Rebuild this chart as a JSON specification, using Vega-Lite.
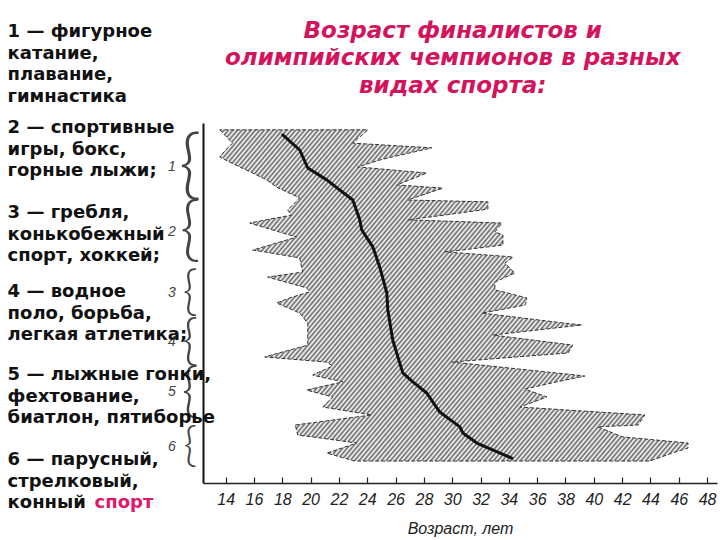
{
  "$schema": "https://vega.github.io/schema/vega-lite/v6.json",
  "width": 514,
  "height": 360,
  "autosize": {"type": "none"},
  "padding": {"left": 203, "top": 123, "right": 3, "bottom": 57},
  "background": "white",
  "config": {"view": {"stroke": null}, "font": "DejaVu Sans"},
  "datasets": {
    "band": [
      {"pos": 1.9, "lo": 13.58, "hi": 24.04},
      {"pos": 5.6, "lo": 14.49, "hi": 22.98},
      {"pos": 6.9, "lo": 14.14, "hi": 28.56},
      {"pos": 9.4, "lo": 13.58, "hi": 25.80},
      {"pos": 10.3, "lo": 14.00, "hi": 24.88},
      {"pos": 12.2, "lo": 14.99, "hi": 23.33},
      {"pos": 13.9, "lo": 15.91, "hi": 28.20},
      {"pos": 15.8, "lo": 16.90, "hi": 27.00},
      {"pos": 17.2, "lo": 17.39, "hi": 26.08},
      {"pos": 17.8, "lo": 17.60, "hi": 28.28},
      {"pos": 18.1, "lo": 17.75, "hi": 29.34},
      {"pos": 20.8, "lo": 19.23, "hi": 27.29},
      {"pos": 21.4, "lo": 19.09, "hi": 26.86},
      {"pos": 21.9, "lo": 18.95, "hi": 32.52},
      {"pos": 23.9, "lo": 18.45, "hi": 32.52},
      {"pos": 24.2, "lo": 18.38, "hi": 32.02},
      {"pos": 25.6, "lo": 18.66, "hi": 29.41},
      {"pos": 26.9, "lo": 16.83, "hi": 26.86},
      {"pos": 27.8, "lo": 15.70, "hi": 33.51},
      {"pos": 30.3, "lo": 17.82, "hi": 33.01},
      {"pos": 31.1, "lo": 18.52, "hi": 33.58},
      {"pos": 31.7, "lo": 19.02, "hi": 33.58},
      {"pos": 33.9, "lo": 17.11, "hi": 33.58},
      {"pos": 35.3, "lo": 15.91, "hi": 30.68},
      {"pos": 35.8, "lo": 16.76, "hi": 29.48},
      {"pos": 37.2, "lo": 18.81, "hi": 34.28},
      {"pos": 37.5, "lo": 19.23, "hi": 34.21},
      {"pos": 38.9, "lo": 19.30, "hi": 33.72},
      {"pos": 41.4, "lo": 19.44, "hi": 34.35},
      {"pos": 41.7, "lo": 18.95, "hi": 34.42},
      {"pos": 42.8, "lo": 16.97, "hi": 33.79},
      {"pos": 44.2, "lo": 18.24, "hi": 33.01},
      {"pos": 45.8, "lo": 19.72, "hi": 33.01},
      {"pos": 46.4, "lo": 19.87, "hi": 33.01},
      {"pos": 46.9, "lo": 19.94, "hi": 33.58},
      {"pos": 48.6, "lo": 18.52, "hi": 35.27},
      {"pos": 50.0, "lo": 17.60, "hi": 35.20},
      {"pos": 50.6, "lo": 17.96, "hi": 35.13},
      {"pos": 52.8, "lo": 19.23, "hi": 32.09},
      {"pos": 55.6, "lo": 19.80, "hi": 37.96},
      {"pos": 56.1, "lo": 19.80, "hi": 39.16},
      {"pos": 58.9, "lo": 19.80, "hi": 32.87},
      {"pos": 61.7, "lo": 19.80, "hi": 38.52},
      {"pos": 63.9, "lo": 17.75, "hi": 38.17},
      {"pos": 65.0, "lo": 16.76, "hi": 34.49},
      {"pos": 66.4, "lo": 21.14, "hi": 29.97},
      {"pos": 67.5, "lo": 21.56, "hi": 32.66},
      {"pos": 70.0, "lo": 20.15, "hi": 38.73},
      {"pos": 70.3, "lo": 20.43, "hi": 39.37},
      {"pos": 71.9, "lo": 22.27, "hi": 37.39},
      {"pos": 73.9, "lo": 20.01, "hi": 35.13},
      {"pos": 74.2, "lo": 19.72, "hi": 35.34},
      {"pos": 76.1, "lo": 21.56, "hi": 36.69},
      {"pos": 78.9, "lo": 20.86, "hi": 34.78},
      {"pos": 81.1, "lo": 24.32, "hi": 43.61},
      {"pos": 83.9, "lo": 18.88, "hi": 43.12},
      {"pos": 84.4, "lo": 18.95, "hi": 40.29},
      {"pos": 86.7, "lo": 19.09, "hi": 41.70},
      {"pos": 87.2, "lo": 20.15, "hi": 42.06},
      {"pos": 88.9, "lo": 23.26, "hi": 46.65},
      {"pos": 90.3, "lo": 22.20, "hi": 46.65},
      {"pos": 91.7, "lo": 21.14, "hi": 45.52},
      {"pos": 93.9, "lo": 23.12, "hi": 43.96}
    ],
    "median": [
      {"pos": 3.3, "age": 18.03},
      {"pos": 7.5, "age": 19.23},
      {"pos": 12.5, "age": 19.80},
      {"pos": 15.8, "age": 21.14},
      {"pos": 18.6, "age": 22.06},
      {"pos": 21.4, "age": 22.98},
      {"pos": 26.9, "age": 23.47},
      {"pos": 29.7, "age": 23.61},
      {"pos": 34.4, "age": 24.39},
      {"pos": 40.0, "age": 24.88},
      {"pos": 47.2, "age": 25.38},
      {"pos": 51.9, "age": 25.45},
      {"pos": 60.3, "age": 25.80},
      {"pos": 69.4, "age": 26.51},
      {"pos": 71.9, "age": 27.22},
      {"pos": 75.0, "age": 28.20},
      {"pos": 80.3, "age": 29.12},
      {"pos": 84.4, "age": 30.54},
      {"pos": 86.1, "age": 30.75},
      {"pos": 88.9, "age": 31.74},
      {"pos": 93.1, "age": 34.21}
    ],
    "groups": [
      {"group": "1", "tip": 12.2, "span": 19.4},
      {"group": "2", "tip": 30.3, "span": 17.8},
      {"group": "3", "tip": 47.2, "span": 13.1},
      {"group": "4", "tip": 60.8, "span": 13.9},
      {"group": "5", "tip": 74.7, "span": 14.7},
      {"group": "6", "tip": 90.0, "span": 11.9}
    ],
    "notes": [
      {"group": "1", "pos": -25.3, "label": "1 — фигурное\nкатание,\nплавание,\nгимнастика"},
      {"group": "2", "pos": 1.4, "label": "2 — спортивные\nигры, бокс,\nгорные лыжи;"},
      {"group": "3", "pos": 25.0, "label": "3 — гребля,\nконькобежный\nспорт, хоккей;"},
      {"group": "4", "pos": 46.9, "label": "4 — водное\nполо, борьба,\nлегкая атлетика;"},
      {"group": "5", "pos": 70.0, "label": "5 — лыжные гонки,\nфехтование,\nбиатлон, пятиборье"},
      {"group": "6", "pos": 93.6, "label": "6 — парусный,\nстрелковый,\nконный"}
    ],
    "highlight": [
      {"group": "6", "pos": 105.6, "word": "спорт"}
    ],
    "heading": [
      {"pos": -25.6, "text": "Возраст финалистов и\nолимпийских чемпионов в разных\nвидах спорта:"}
    ]
  },
  "layer": [
    {
      "data": {"name": "band"},
      "mark": {
        "type": "area", "orient": "horizontal", "stroke": "#333333", "strokeWidth": 1, "strokeDash": [4, 2],
        "fill": {
          "gradient": "linear", "x1": 0, "y1": 0, "x2": 1.18, "y2": 0.7,
          "stops": [
            {"offset":0,"color":"#666"},{"offset":0.003,"color":"#fff"},{"offset":0.006,"color":"#666"},{"offset":0.009,"color":"#fff"},{"offset":0.012,"color":"#666"},{"offset":0.015,"color":"#fff"},{"offset":0.018,"color":"#666"},{"offset":0.021,"color":"#fff"},{"offset":0.024,"color":"#666"},{"offset":0.027,"color":"#fff"},
            {"offset":0.03,"color":"#666"},{"offset":0.033,"color":"#fff"},{"offset":0.036,"color":"#666"},{"offset":0.039,"color":"#fff"},{"offset":0.042,"color":"#666"},{"offset":0.045,"color":"#fff"},{"offset":0.048,"color":"#666"},{"offset":0.051,"color":"#fff"},{"offset":0.054,"color":"#666"},{"offset":0.057,"color":"#fff"},
            {"offset":0.06,"color":"#666"},{"offset":0.063,"color":"#fff"},{"offset":0.066,"color":"#666"},{"offset":0.069,"color":"#fff"},{"offset":0.072,"color":"#666"},{"offset":0.075,"color":"#fff"},{"offset":0.078,"color":"#666"},{"offset":0.081,"color":"#fff"},{"offset":0.084,"color":"#666"},{"offset":0.087,"color":"#fff"},
            {"offset":0.09,"color":"#666"},{"offset":0.093,"color":"#fff"},{"offset":0.096,"color":"#666"},{"offset":0.099,"color":"#fff"},{"offset":0.102,"color":"#666"},{"offset":0.105,"color":"#fff"},{"offset":0.108,"color":"#666"},{"offset":0.111,"color":"#fff"},{"offset":0.114,"color":"#666"},{"offset":0.117,"color":"#fff"},
            {"offset":0.12,"color":"#666"},{"offset":0.123,"color":"#fff"},{"offset":0.126,"color":"#666"},{"offset":0.129,"color":"#fff"},{"offset":0.132,"color":"#666"},{"offset":0.135,"color":"#fff"},{"offset":0.138,"color":"#666"},{"offset":0.141,"color":"#fff"},{"offset":0.144,"color":"#666"},{"offset":0.147,"color":"#fff"},
            {"offset":0.15,"color":"#666"},{"offset":0.153,"color":"#fff"},{"offset":0.156,"color":"#666"},{"offset":0.159,"color":"#fff"},{"offset":0.162,"color":"#666"},{"offset":0.165,"color":"#fff"},{"offset":0.168,"color":"#666"},{"offset":0.171,"color":"#fff"},{"offset":0.174,"color":"#666"},{"offset":0.177,"color":"#fff"},
            {"offset":0.18,"color":"#666"},{"offset":0.183,"color":"#fff"},{"offset":0.186,"color":"#666"},{"offset":0.189,"color":"#fff"},{"offset":0.192,"color":"#666"},{"offset":0.195,"color":"#fff"},{"offset":0.198,"color":"#666"},{"offset":0.201,"color":"#fff"},{"offset":0.204,"color":"#666"},{"offset":0.207,"color":"#fff"},
            {"offset":0.21,"color":"#666"},{"offset":0.213,"color":"#fff"},{"offset":0.216,"color":"#666"},{"offset":0.219,"color":"#fff"},{"offset":0.222,"color":"#666"},{"offset":0.225,"color":"#fff"},{"offset":0.228,"color":"#666"},{"offset":0.231,"color":"#fff"},{"offset":0.234,"color":"#666"},{"offset":0.237,"color":"#fff"},
            {"offset":0.24,"color":"#666"},{"offset":0.243,"color":"#fff"},{"offset":0.246,"color":"#666"},{"offset":0.249,"color":"#fff"},{"offset":0.252,"color":"#666"},{"offset":0.255,"color":"#fff"},{"offset":0.258,"color":"#666"},{"offset":0.261,"color":"#fff"},{"offset":0.264,"color":"#666"},{"offset":0.267,"color":"#fff"},
            {"offset":0.27,"color":"#666"},{"offset":0.273,"color":"#fff"},{"offset":0.276,"color":"#666"},{"offset":0.279,"color":"#fff"},{"offset":0.282,"color":"#666"},{"offset":0.285,"color":"#fff"},{"offset":0.288,"color":"#666"},{"offset":0.291,"color":"#fff"},{"offset":0.294,"color":"#666"},{"offset":0.297,"color":"#fff"},
            {"offset":0.3,"color":"#666"},{"offset":0.303,"color":"#fff"},{"offset":0.306,"color":"#666"},{"offset":0.309,"color":"#fff"},{"offset":0.312,"color":"#666"},{"offset":0.315,"color":"#fff"},{"offset":0.318,"color":"#666"},{"offset":0.321,"color":"#fff"},{"offset":0.324,"color":"#666"},{"offset":0.327,"color":"#fff"},
            {"offset":0.33,"color":"#666"},{"offset":0.333,"color":"#fff"},{"offset":0.336,"color":"#666"},{"offset":0.339,"color":"#fff"},{"offset":0.342,"color":"#666"},{"offset":0.345,"color":"#fff"},{"offset":0.348,"color":"#666"},{"offset":0.351,"color":"#fff"},{"offset":0.354,"color":"#666"},{"offset":0.357,"color":"#fff"},
            {"offset":0.36,"color":"#666"},{"offset":0.363,"color":"#fff"},{"offset":0.366,"color":"#666"},{"offset":0.369,"color":"#fff"},{"offset":0.372,"color":"#666"},{"offset":0.375,"color":"#fff"},{"offset":0.378,"color":"#666"},{"offset":0.381,"color":"#fff"},{"offset":0.384,"color":"#666"},{"offset":0.387,"color":"#fff"},
            {"offset":0.39,"color":"#666"},{"offset":0.393,"color":"#fff"},{"offset":0.396,"color":"#666"},{"offset":0.399,"color":"#fff"},{"offset":0.402,"color":"#666"},{"offset":0.405,"color":"#fff"},{"offset":0.408,"color":"#666"},{"offset":0.411,"color":"#fff"},{"offset":0.414,"color":"#666"},{"offset":0.417,"color":"#fff"},
            {"offset":0.42,"color":"#666"},{"offset":0.423,"color":"#fff"},{"offset":0.426,"color":"#666"},{"offset":0.429,"color":"#fff"},{"offset":0.432,"color":"#666"},{"offset":0.435,"color":"#fff"},{"offset":0.438,"color":"#666"},{"offset":0.441,"color":"#fff"},{"offset":0.444,"color":"#666"},{"offset":0.447,"color":"#fff"},
            {"offset":0.45,"color":"#666"},{"offset":0.453,"color":"#fff"},{"offset":0.456,"color":"#666"},{"offset":0.459,"color":"#fff"},{"offset":0.462,"color":"#666"},{"offset":0.465,"color":"#fff"},{"offset":0.468,"color":"#666"},{"offset":0.471,"color":"#fff"},{"offset":0.474,"color":"#666"},{"offset":0.477,"color":"#fff"},
            {"offset":0.48,"color":"#666"},{"offset":0.483,"color":"#fff"},{"offset":0.486,"color":"#666"},{"offset":0.489,"color":"#fff"},{"offset":0.492,"color":"#666"},{"offset":0.495,"color":"#fff"},{"offset":0.498,"color":"#666"},{"offset":0.501,"color":"#fff"},{"offset":0.504,"color":"#666"},{"offset":0.507,"color":"#fff"},
            {"offset":0.51,"color":"#666"},{"offset":0.513,"color":"#fff"},{"offset":0.516,"color":"#666"},{"offset":0.519,"color":"#fff"},{"offset":0.522,"color":"#666"},{"offset":0.525,"color":"#fff"},{"offset":0.528,"color":"#666"},{"offset":0.531,"color":"#fff"},{"offset":0.534,"color":"#666"},{"offset":0.537,"color":"#fff"},
            {"offset":0.54,"color":"#666"},{"offset":0.543,"color":"#fff"},{"offset":0.546,"color":"#666"},{"offset":0.549,"color":"#fff"},{"offset":0.552,"color":"#666"},{"offset":0.555,"color":"#fff"},{"offset":0.558,"color":"#666"},{"offset":0.561,"color":"#fff"},{"offset":0.564,"color":"#666"},{"offset":0.567,"color":"#fff"},
            {"offset":0.57,"color":"#666"},{"offset":0.573,"color":"#fff"},{"offset":0.576,"color":"#666"},{"offset":0.579,"color":"#fff"},{"offset":0.582,"color":"#666"},{"offset":0.585,"color":"#fff"},{"offset":0.588,"color":"#666"},{"offset":0.591,"color":"#fff"},{"offset":0.594,"color":"#666"},{"offset":0.597,"color":"#fff"},
            {"offset":0.6,"color":"#666"},{"offset":0.603,"color":"#fff"},{"offset":0.606,"color":"#666"},{"offset":0.609,"color":"#fff"},{"offset":0.612,"color":"#666"},{"offset":0.615,"color":"#fff"},{"offset":0.618,"color":"#666"},{"offset":0.621,"color":"#fff"},{"offset":0.624,"color":"#666"},{"offset":0.627,"color":"#fff"},
            {"offset":0.63,"color":"#666"},{"offset":0.633,"color":"#fff"},{"offset":0.636,"color":"#666"},{"offset":0.639,"color":"#fff"},{"offset":0.642,"color":"#666"},{"offset":0.645,"color":"#fff"},{"offset":0.648,"color":"#666"},{"offset":0.651,"color":"#fff"},{"offset":0.654,"color":"#666"},{"offset":0.657,"color":"#fff"},
            {"offset":0.66,"color":"#666"},{"offset":0.663,"color":"#fff"},{"offset":0.666,"color":"#666"},{"offset":0.669,"color":"#fff"},{"offset":0.672,"color":"#666"},{"offset":0.675,"color":"#fff"},{"offset":0.678,"color":"#666"},{"offset":0.681,"color":"#fff"},{"offset":0.684,"color":"#666"},{"offset":0.687,"color":"#fff"},
            {"offset":0.69,"color":"#666"},{"offset":0.693,"color":"#fff"},{"offset":0.696,"color":"#666"},{"offset":0.699,"color":"#fff"},{"offset":0.702,"color":"#666"},{"offset":0.705,"color":"#fff"},{"offset":0.708,"color":"#666"},{"offset":0.711,"color":"#fff"},{"offset":0.714,"color":"#666"},{"offset":0.717,"color":"#fff"},
            {"offset":0.72,"color":"#666"},{"offset":0.723,"color":"#fff"},{"offset":0.726,"color":"#666"},{"offset":0.729,"color":"#fff"},{"offset":0.732,"color":"#666"},{"offset":0.735,"color":"#fff"},{"offset":0.738,"color":"#666"},{"offset":0.741,"color":"#fff"},{"offset":0.744,"color":"#666"},{"offset":0.747,"color":"#fff"},
            {"offset":0.75,"color":"#666"},{"offset":0.753,"color":"#fff"},{"offset":0.756,"color":"#666"},{"offset":0.759,"color":"#fff"},{"offset":0.762,"color":"#666"},{"offset":0.765,"color":"#fff"},{"offset":0.768,"color":"#666"},{"offset":0.771,"color":"#fff"},{"offset":0.774,"color":"#666"},{"offset":0.777,"color":"#fff"},
            {"offset":0.78,"color":"#666"},{"offset":0.783,"color":"#fff"},{"offset":0.786,"color":"#666"},{"offset":0.789,"color":"#fff"},{"offset":0.792,"color":"#666"},{"offset":0.795,"color":"#fff"},{"offset":0.798,"color":"#666"},{"offset":0.801,"color":"#fff"},{"offset":0.804,"color":"#666"},{"offset":0.807,"color":"#fff"},
            {"offset":0.81,"color":"#666"},{"offset":0.813,"color":"#fff"},{"offset":0.816,"color":"#666"},{"offset":0.819,"color":"#fff"},{"offset":0.822,"color":"#666"},{"offset":0.825,"color":"#fff"},{"offset":0.828,"color":"#666"},{"offset":0.831,"color":"#fff"},{"offset":0.834,"color":"#666"},{"offset":0.837,"color":"#fff"},
            {"offset":0.84,"color":"#666"},{"offset":0.843,"color":"#fff"},{"offset":0.846,"color":"#666"},{"offset":0.849,"color":"#fff"},{"offset":0.852,"color":"#666"},{"offset":0.855,"color":"#fff"},{"offset":0.858,"color":"#666"},{"offset":0.861,"color":"#fff"},{"offset":0.864,"color":"#666"},{"offset":0.867,"color":"#fff"},
            {"offset":0.87,"color":"#666"},{"offset":0.873,"color":"#fff"},{"offset":0.876,"color":"#666"},{"offset":0.879,"color":"#fff"},{"offset":0.882,"color":"#666"},{"offset":0.885,"color":"#fff"},{"offset":0.888,"color":"#666"},{"offset":0.891,"color":"#fff"},{"offset":0.894,"color":"#666"},{"offset":0.897,"color":"#fff"},
            {"offset":0.9,"color":"#666"},{"offset":0.903,"color":"#fff"},{"offset":0.906,"color":"#666"},{"offset":0.909,"color":"#fff"},{"offset":0.912,"color":"#666"},{"offset":0.915,"color":"#fff"},{"offset":0.918,"color":"#666"},{"offset":0.921,"color":"#fff"},{"offset":0.924,"color":"#666"},{"offset":0.927,"color":"#fff"},
            {"offset":0.93,"color":"#666"},{"offset":0.933,"color":"#fff"},{"offset":0.936,"color":"#666"},{"offset":0.939,"color":"#fff"},{"offset":0.942,"color":"#666"},{"offset":0.945,"color":"#fff"},{"offset":0.948,"color":"#666"},{"offset":0.951,"color":"#fff"},{"offset":0.954,"color":"#666"},{"offset":0.957,"color":"#fff"},
            {"offset":0.96,"color":"#666"},{"offset":0.963,"color":"#fff"},{"offset":0.966,"color":"#666"},{"offset":0.969,"color":"#fff"},{"offset":0.972,"color":"#666"},{"offset":0.975,"color":"#fff"},{"offset":0.978,"color":"#666"},{"offset":0.981,"color":"#fff"},{"offset":0.984,"color":"#666"},{"offset":0.987,"color":"#fff"},
            {"offset":0.99,"color":"#666"},{"offset":0.993,"color":"#fff"},{"offset":0.996,"color":"#666"},{"offset":0.999,"color":"#fff"}
          ]
        }
      },
      "encoding": {
        "y": {
          "field": "pos", "type": "quantitative",
          "scale": {"domain": [0, 100], "reverse": true, "nice": false, "zero": false},
          "axis": {"title": null, "labels": false, "ticks": false, "grid": false, "domain": true, "domainColor": "#111111", "domainWidth": 2}
        },
        "x": {
          "field": "lo", "type": "quantitative",
          "scale": {"domain": [12.4, 48.7], "nice": false, "zero": false},
          "axis": {
            "title": "Возраст, лет",
            "values": [14, 16, 18, 20, 22, 24, 26, 28, 30, 32, 34, 36, 38, 40, 42, 44, 46, 48],
            "tickCount": 20,
            "grid": false,
            "domainColor": "#222222", "domainWidth": 1.5,
            "tickColor": "#222222", "tickSize": -6, "tickWidth": 1.2,
            "labelFont": "Liberation Sans", "labelFontSize": 16, "labelFontStyle": "italic", "labelColor": "#222222",
            "labelPadding": 14, "labelFlush": false, "labelOverlap": false,
            "titleFont": "Liberation Sans", "titleFontSize": 16, "titleFontStyle": "italic", "titleFontWeight": "normal",
            "titleColor": "#222222", "titlePadding": 13
          }
        },
        "x2": {"field": "hi"}
      }
    },
    {
      "data": {"name": "median"},
      "mark": {"type": "line", "color": "#111111", "strokeWidth": 3, "strokeCap": "round", "strokeJoin": "round"},
      "encoding": {
        "y": {"field": "pos", "type": "quantitative"},
        "x": {"field": "age", "type": "quantitative"},
        "order": {"field": "pos", "type": "quantitative"}
      }
    },
    {
      "data": {"name": "groups"},
      "mark": {"type": "text", "text": "{", "font": "Lato", "fontWeight": 300, "color": "#444444", "align": "center", "baseline": "middle"},
      "encoding": {
        "y": {"field": "tip", "type": "quantitative"},
        "x": {"datum": 11.5},
        "size": {"field": "span", "type": "quantitative", "scale": {"domain": [0, 20], "range": [0, 80]}, "legend": null}
      }
    },
    {
      "data": {"name": "groups"},
      "mark": {"type": "text", "font": "Liberation Sans", "fontStyle": "italic", "fontSize": 14, "color": "#444444", "align": "center", "baseline": "middle"},
      "encoding": {
        "y": {"field": "tip", "type": "quantitative"},
        "x": {"datum": 10.2},
        "text": {"field": "group"}
      }
    },
    {
      "data": {"name": "notes"},
      "mark": {"type": "text", "font": "DejaVu Sans", "fontWeight": "bold", "fontSize": 18, "lineHeight": 21.7, "lineBreak": "\n", "color": "#111111", "align": "left", "baseline": "middle"},
      "encoding": {
        "y": {"field": "pos", "type": "quantitative"},
        "x": {"datum": -1.4},
        "text": {"field": "label"}
      }
    },
    {
      "data": {"name": "highlight"},
      "mark": {"type": "text", "font": "DejaVu Sans", "fontWeight": "bold", "fontSize": 18, "color": "#e0196b", "align": "left", "baseline": "middle"},
      "encoding": {
        "y": {"field": "pos", "type": "quantitative"},
        "x": {"datum": 4.74},
        "text": {"field": "word"}
      }
    },
    {
      "data": {"name": "heading"},
      "mark": {"type": "text", "font": "DejaVu Sans", "fontWeight": "bold", "fontStyle": "italic", "fontSize": 23, "lineHeight": 27.5, "lineBreak": "\n", "color": "#d3145c", "align": "center", "baseline": "middle"},
      "encoding": {
        "y": {"field": "pos", "type": "quantitative"},
        "x": {"datum": 30.04},
        "text": {"field": "text"}
      }
    }
  ]
}
